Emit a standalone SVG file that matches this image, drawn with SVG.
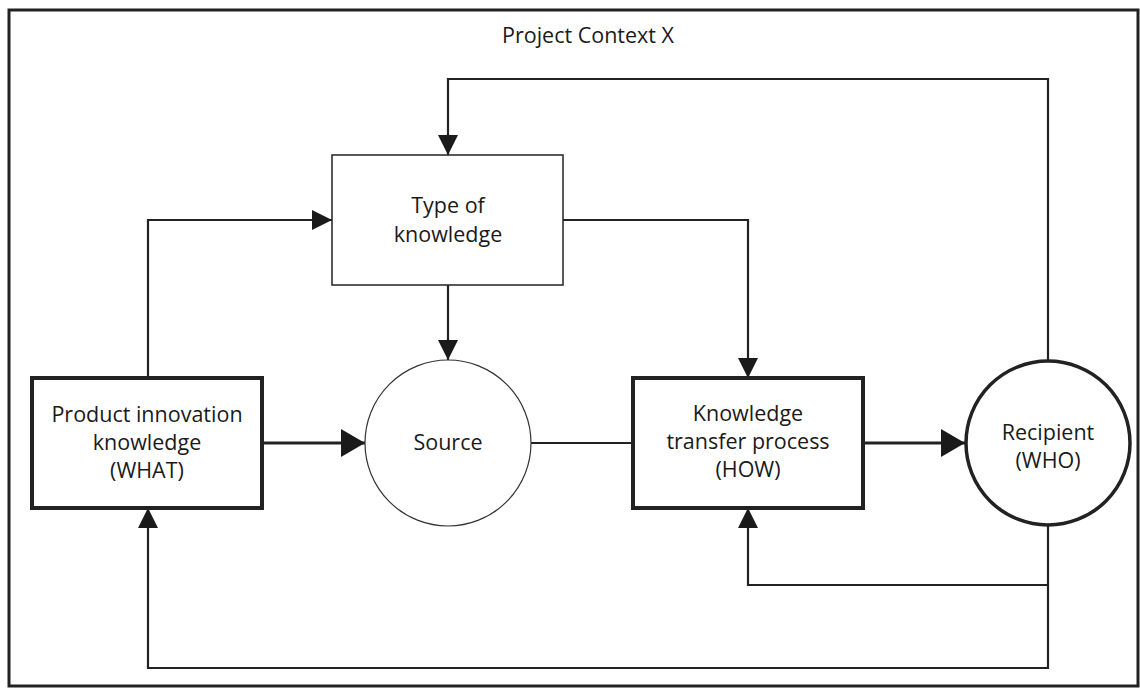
<svg xmlns="http://www.w3.org/2000/svg" width="1140" height="688" viewBox="0 0 1140 688">
<defs>
<style>
text{font-family:"Open Sans","Noto Sans","Liberation Sans",sans-serif;font-size:21.5px;fill:#1a1a1a;text-anchor:middle}
.thin{fill:#fff;stroke:#222;stroke-width:1.5}
.thick{fill:#fff;stroke:#222;stroke-width:4}
.c{fill:none;stroke:#222;stroke-width:2.2}
.cb{fill:none;stroke:#222;stroke-width:3.2}
</style>
<marker id="ah" markerUnits="userSpaceOnUse" markerWidth="20" markerHeight="20" viewBox="0 0 18 18" refX="18" refY="9" orient="auto">
<path d="M0,0 L18,9 L0,18 Z" fill="#1a1a1a"/>
</marker>
<marker id="ahb" markerUnits="userSpaceOnUse" markerWidth="26" markerHeight="28" viewBox="0 0 24 28" refX="24" refY="14" orient="auto">
<path d="M0,0 L24,14 L0,28 Z" fill="#1a1a1a"/>
</marker>
</defs>
<rect width="1140" height="688" fill="#fff"/>
<rect id="frame" x="9" y="10" width="1129" height="676" fill="none" stroke="#222" stroke-width="3"/>
<text x="588" y="43">Project Context X</text>
<g id="connectors">
<path class="c" d="M1048,361 V79 H448 V155" marker-end="url(#ah)"/>
<path class="c" d="M148,378 V220 H332" marker-end="url(#ah)"/>
<path class="c" d="M448,285 V360" marker-end="url(#ah)"/>
<path class="c" d="M563,220 H748 V378" marker-end="url(#ah)"/>
<path class="cb" d="M262,443 H365" marker-end="url(#ahb)"/>
<path class="c" d="M531,443 H633"/>
<path class="cb" d="M863,443 H965" marker-end="url(#ahb)"/>
<path class="c" d="M1048,525 V668 H148 V508" marker-end="url(#ah)"/>
<path class="c" d="M1048,585 H748 V508" marker-end="url(#ah)"/>
</g>
<g id="type">
<rect class="thin" x="332" y="155" width="231" height="130"/>
<text x="448" y="213">Type of</text>
<text x="448" y="242">knowledge</text>
</g>
<g id="product">
<rect class="thick" x="32" y="378" width="230" height="130"/>
<text x="147" y="422">Product innovation</text>
<text x="147" y="450">knowledge</text>
<text x="147" y="478">(WHAT)</text>
</g>
<g id="source">
<circle cx="448" cy="443" r="83" fill="#fff" stroke="#333" stroke-width="1.2"/>
<text x="448" y="450">Source</text>
</g>
<g id="kt">
<rect class="thick" x="633" y="378" width="230" height="130"/>
<text x="748" y="421">Knowledge</text>
<text x="748" y="449">transfer process</text>
<text x="748" y="477">(HOW)</text>
</g>
<g id="recipient">
<circle cx="1048" cy="443" r="82" fill="#fff" stroke="#222" stroke-width="3.5"/>
<text x="1048" y="440">Recipient</text>
<text x="1048" y="468">(WHO)</text>
</g>
</svg>
